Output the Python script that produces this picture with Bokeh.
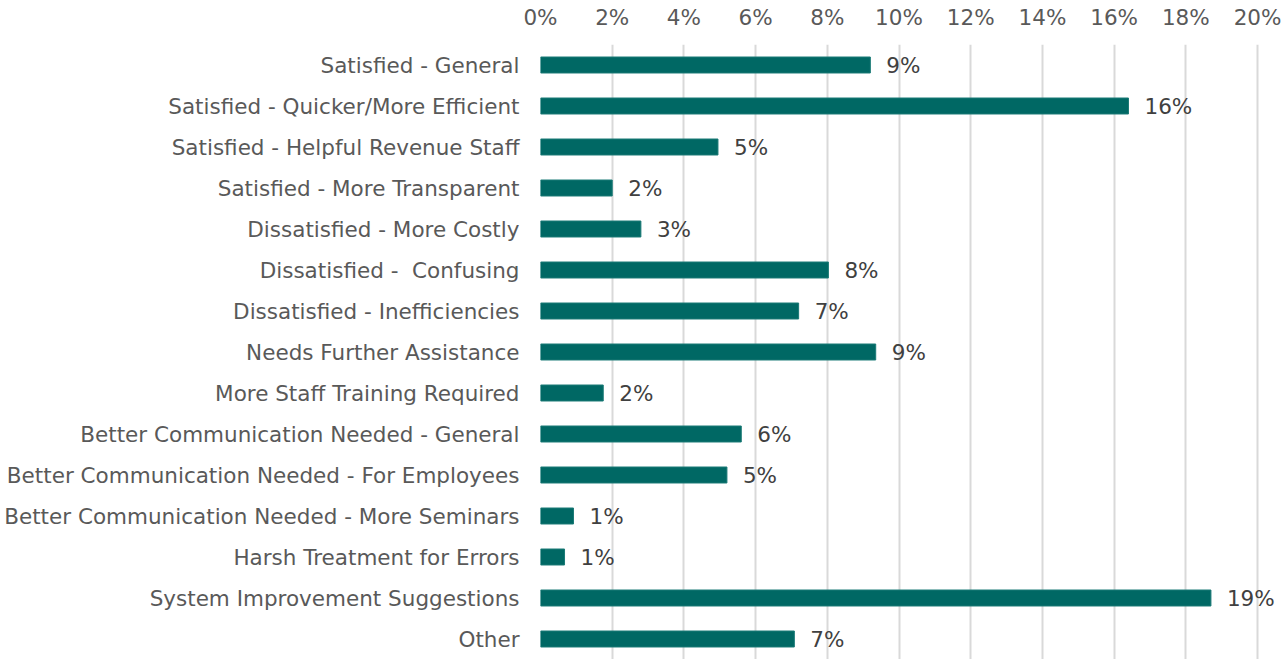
from bokeh.plotting import figure
from bokeh.models import ColumnDataSource, Range1d, FixedTicker, PrintfTickFormatter
from bokeh.core.properties import value
from bokeh.embed import file_html
from bokeh.resources import INLINE

categories = [
    "Satisfied - General",
    "Satisfied - Quicker/More Efficient",
    "Satisfied - Helpful Revenue Staff",
    "Satisfied - More Transparent",
    "Dissatisfied - More Costly",
    "Dissatisfied -\u00a0 Confusing",
    "Dissatisfied - Inefficiencies",
    "Needs Further Assistance",
    "More Staff Training Required",
    "Better Communication Needed - General",
    "Better Communication Needed - For Employees",
    "Better Communication Needed - More Seminars",
    "Harsh Treatment for Errors",
    "System Improvement Suggestions",
    "Other",
]
percent_values = [9.2, 16.4, 4.95, 2.0, 2.8, 8.03, 7.2, 9.35, 1.75, 5.6, 5.2, 0.92, 0.67, 18.7, 7.08]
x_ticks = [0, 2, 4, 6, 8, 10, 12, 14, 16, 18, 20]

positions = list(range(len(categories)))
labels = [f"{round(v)}%" for v in percent_values]
src = ColumnDataSource(dict(y=positions, v=percent_values, lab=labels))

FONT = "DejaVu Sans"
FS = "21.5px"

p = figure(width=1285, height=659, output_backend="svg", toolbar_location=None,
           x_range=Range1d(0, 20.78), y_range=Range1d(14.5, -0.5),
           x_axis_location="above", min_border_left=540, min_border_right=0,
           min_border_top=44, min_border_bottom=0)
p.outline_line_color = None
p.background_fill_color = "white"

p.hbar(y="y", right="v", left=0, height=0.39, source=src,
       fill_color="#006864", line_color="#1a7a76", line_width=1)
p.text(x="v", y="y", text="lab", source=src, x_offset=16, text_baseline="middle",
       text_align="left", text_font=value(FONT), text_font_size=FS, text_color="#404040")

xa = p.xaxis[0]
xa.ticker = FixedTicker(ticks=x_ticks)
xa.formatter = PrintfTickFormatter(format="%d%%")
xa.axis_line_color = None
xa.major_tick_line_color = None
xa.minor_tick_line_color = None
xa.major_tick_out = 0
xa.major_tick_in = 0
xa.major_label_standoff = 15
xa.major_label_text_font = FONT
xa.major_label_text_font_size = FS
xa.major_label_text_color = "#595959"

ya = p.yaxis[0]
ya.ticker = FixedTicker(ticks=positions)
ya.major_label_overrides = {i: c for i, c in zip(positions, categories)}
ya.axis_line_color = None
ya.major_tick_line_color = None
ya.minor_tick_line_color = None
ya.major_tick_out = 0
ya.major_tick_in = 0
ya.major_label_standoff = 21
ya.major_label_text_font = FONT
ya.major_label_text_font_size = FS
ya.major_label_text_color = "#595959"

p.xgrid.ticker = FixedTicker(ticks=x_ticks)
p.xgrid.grid_line_color = "#d9d9d9"
p.xgrid.grid_line_width = 2
p.ygrid.grid_line_color = None

open("out.html", "w").write(file_html(p, INLINE))
